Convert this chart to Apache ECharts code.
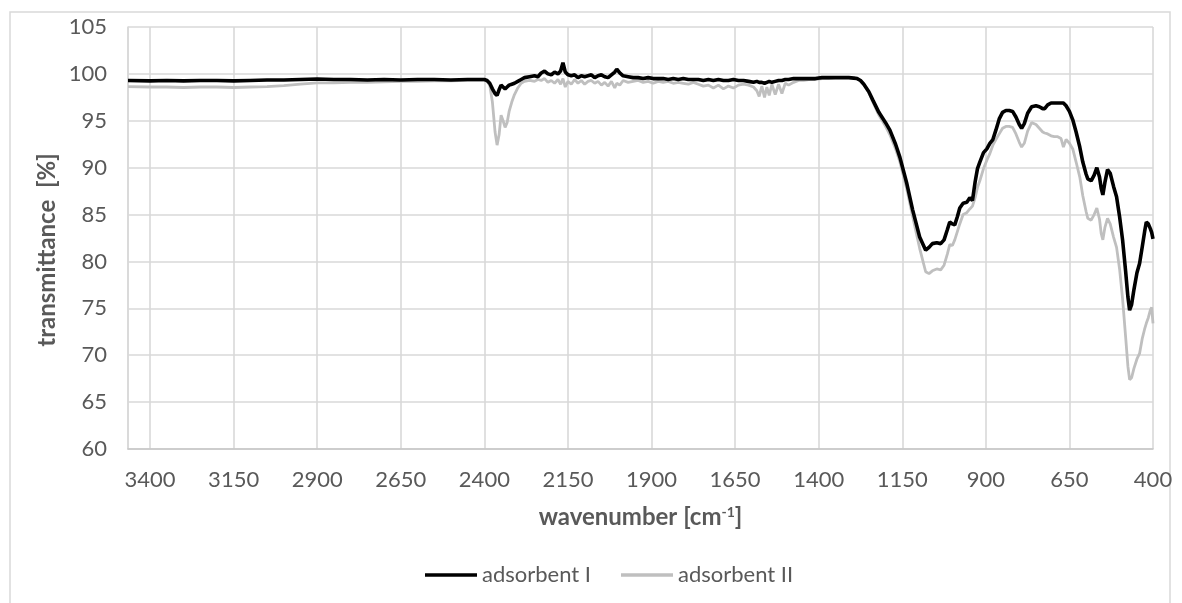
<!DOCTYPE html>
<html>
<head>
<meta charset="utf-8">
<title>FTIR spectra of adsorbents</title>
<script src="https://cdn.jsdelivr.net/npm/echarts@6/dist/echarts.min.js"></script>
<style>
  html, body { margin: 0; padding: 0; background: #ffffff; }
  #chart { width: 1182px; height: 603px; }
</style>
</head>
<body>
<div id="chart"></div>
<script>
// Wavenumber (cm-1) of each sampled point, high to low
const wavenumber = [
  // baseline
  3466, 3400, 3350, 3300, 3250, 3200, 3150, 3100, 3050, 3000, 2950,
  2900, 2850, 2800, 2750, 2700, 2650, 2600, 2550, 2500, 2450, 2400,
  // CO2 doublet
  2392, 2384, 2376, 2368, 2362, 2356, 2350, 2344, 2338, 2332, 2326, 2318, 2310, 2300, 2290, 2280,
  // noisy plateau
  2265, 2250, 2240, 2230, 2220, 2210, 2200, 2190, 2180, 2172, 2165, 2158, 2150, 2140, 2130,
  2120, 2110, 2100, 2090, 2080, 2070, 2060, 2050, 2040, 2030, 2020, 2010, 2004, 1995, 1985,
  1970, 1955, 1940, 1925, 1910, 1895, 1880, 1865, 1850, 1835, 1820, 1805, 1790, 1775, 1760,
  1745, 1730, 1715, 1700, 1685, 1670, 1655, 1640, 1625, 1610,
  1595, 1585, 1578, 1570, 1562, 1555, 1548, 1540, 1530, 1520, 1510, 1500, 1490, 1475,
  1460, 1445, 1430, 1410, 1390, 1370, 1350, 1330, 1310, 1295, 1285, 1275, 1265,
  // fingerprint region
  1250, 1238, 1220, 1200, 1187, 1170, 1157, 1137, 1119, 1098,
  1080, 1070, 1060, 1047, 1035, 1025, 1015, 1008, 1000, 993,
  985, 978, 968, 957, 948, 940, 932, 925, 918, 907,
  897, 888, 879, 870, 860, 850, 840, 830, 820, 810,
  800, 793, 785, 775, 763, 750, 740, 730, 724, 715,
  705, 695, 685, 675, 668, 660, 650, 640, 630, 619,
  610, 600, 595, 585, 576, 568, 560, 555, 550, 544,
  536, 528, 518, 509, 500, 491, 482, 475, 470, 464,
  457, 448, 440, 432, 425, 420, 414, 408, 404, 400
];

// Transmittance (%) of adsorbent I
const adsorbentI = [
  99.30, 99.25, 99.30, 99.25, 99.30, 99.30, 99.25, 99.30, 99.35, 99.35, 99.40,
  99.45, 99.40, 99.40, 99.35, 99.40, 99.35, 99.40, 99.40, 99.35, 99.40, 99.40,
  99.3, 99.0, 98.4, 97.9, 97.7, 98.3, 98.8, 98.6, 98.4, 98.6, 98.8, 98.9, 99.0, 99.2, 99.4, 99.6,
  99.7, 99.8, 99.7, 100.1, 100.3, 100.0, 99.9, 100.2, 100.0, 100.3, 101.2, 100.2, 99.9, 99.8, 99.9,
  99.6, 99.8, 99.7, 99.8, 99.9, 99.6, 99.8, 99.9, 99.7, 99.6, 99.9, 100.2, 100.5, 100.1, 99.8,
  99.7, 99.6, 99.6, 99.5, 99.6, 99.5, 99.5, 99.5, 99.4, 99.5, 99.4, 99.5, 99.4, 99.4, 99.4,
  99.3, 99.4, 99.3, 99.4, 99.3, 99.3, 99.4, 99.3, 99.3, 99.2,
  99.1, 99.2, 99.1, 99.1, 99.0, 99.1, 99.2, 99.1, 99.2, 99.3, 99.3, 99.4, 99.4, 99.5,
  99.5, 99.5, 99.5, 99.5, 99.6, 99.6, 99.6, 99.6, 99.6, 99.55, 99.5, 99.3, 98.9,
  98.1, 97.2, 95.9, 94.8, 94.0, 92.5, 91.1, 88.4, 85.5, 82.6,
  81.2, 81.5, 81.9, 82.0, 81.9, 82.3, 83.4, 84.2, 84.0, 83.9,
  84.8, 85.7, 86.2, 86.3, 86.8, 86.5, 88.5, 89.9, 90.6, 91.6,
  92.0, 92.6, 93.0, 94.0, 95.2, 95.9, 96.1, 96.1, 96.0, 95.4,
  94.6, 94.2, 94.7, 95.8, 96.5, 96.6, 96.5, 96.3, 96.3, 96.7,
  96.9, 96.9, 96.9, 96.9, 96.9, 96.6, 96.0, 95.1, 93.8, 92.2,
  90.6, 89.3, 88.8, 88.6, 89.2, 90.0, 89.0, 87.8, 87.1, 88.4,
  89.8, 89.4, 88.0, 86.9, 84.8, 82.3, 79.0, 76.2, 74.8, 75.4,
  77.0, 78.8, 79.8, 81.6, 83.2, 84.2, 84.0, 83.5, 83.1, 82.4
];

// Transmittance (%) of adsorbent II
const adsorbentII = [
  98.65, 98.60, 98.60, 98.55, 98.60, 98.60, 98.55, 98.60, 98.65, 98.75, 98.90,
  99.05, 99.05, 99.10, 99.10, 99.15, 99.20, 99.20, 99.25, 99.25, 99.30, 99.30,
  99.2, 98.8, 97.0, 93.8, 92.4, 93.5, 95.6, 95.0, 94.3, 94.8, 96.0, 97.0, 97.8, 98.5, 99.0, 99.2,
  99.3, 99.2, 99.4, 99.3, 99.5, 99.1, 99.3, 99.0, 99.4, 98.9, 99.5, 98.6, 99.2, 98.9, 99.4,
  99.0, 99.3, 98.9, 99.2, 99.3, 99.0, 99.2, 98.8, 99.1, 98.7, 99.2, 98.5, 99.0, 98.8, 99.3,
  99.1, 99.2, 99.3, 99.1, 99.2, 99.0, 99.2, 99.1, 99.2, 99.0, 99.1, 99.0, 98.9, 99.1, 98.9,
  98.7, 98.8, 98.5, 98.8, 98.4, 98.7, 98.5, 98.8, 98.9, 98.8,
  98.6, 98.2, 97.6, 98.7, 97.5, 98.6, 97.7, 98.9, 97.8, 98.9, 97.9, 99.0, 98.8, 99.1,
  99.3, 99.3, 99.4, 99.4, 99.5, 99.5, 99.6, 99.6, 99.6, 99.55, 99.5, 99.3, 98.9,
  98.0, 97.0, 95.6, 94.4, 93.5, 92.0, 90.6, 87.8, 84.8, 81.4,
  78.9, 78.7, 79.0, 79.2, 79.1, 79.6, 80.8, 81.8, 81.7, 82.3,
  83.2, 84.0, 85.0, 85.2, 85.6, 85.9, 86.8, 87.9, 88.6, 89.9,
  90.8, 91.5, 92.4, 93.0, 93.6, 94.2, 94.4, 94.4, 94.3, 93.6,
  92.7, 92.2, 92.6, 93.9, 94.8, 94.6, 94.2, 93.8, 93.7, 93.6,
  93.4, 93.3, 93.3, 93.1, 92.2, 93.0, 92.6, 92.0, 90.6, 89.0,
  87.0, 85.3, 84.6, 84.4, 85.0, 85.7, 84.5, 83.0, 82.3, 83.6,
  84.6, 84.0, 82.6, 81.5, 79.2, 76.0, 72.0, 68.8, 67.4, 67.6,
  68.6, 69.6, 70.2, 71.8, 72.8, 73.4, 74.0, 74.8, 75.1, 73.4
];

// Labelled wavenumber ticks
const xTickLabels = [3400, 3150, 2900, 2650, 2400, 2150, 1900, 1650, 1400, 1150, 900, 650, 400];
const seriesNames = ['adsorbent I', 'adsorbent II'];

const FONT = 'Lato, "Open Sans", sans-serif';
const TEXT = '#595959';
const GRID = '#d9d9d9';

const chart = echarts.init(document.getElementById('chart'), null, { renderer: 'canvas' });

const toPairs = (vals) => wavenumber.map((w, i) => [w, vals[i]]);

chart.setOption({
  animation: false,
  backgroundColor: '#ffffff',
  textStyle: { fontFamily: FONT },
  graphic: [
    {
      type: 'rect',
      shape: { x: 10, y: 12, width: 1160, height: 620 },
      style: { fill: 'none', stroke: GRID, lineWidth: 1.5 },
      silent: true,
      z: -10
    },
    {
      type: 'text',
      x: 47,
      y: 250,
      rotation: Math.PI / 2,
      style: {
        text: 'transmittance  [%]',
        fill: TEXT,
        font: 'bold 24px ' + FONT,
        textAlign: 'center',
        textVerticalAlign: 'middle'
      }
    }
  ],
  grid: { left: 128, right: 29, top: 27, bottom: 154, containLabel: false },
  legend: {
    data: [
      { name: seriesNames[0], icon: 'rect' },
      { name: seriesNames[1], icon: 'rect' }
    ],
    left: 420,
    top: 559,
    itemWidth: 52,
    itemHeight: 3.5,
    itemGap: 30,
    textStyle: { color: TEXT, fontSize: 22, fontFamily: FONT },
    selectedMode: false
  },
  xAxis: {
    type: 'value',
    inverse: true,
    min: 400,
    max: 3466,
    interval: 250,
    name: '{t|wavenumber [cm}{s|-1}{t|]}',
    nameLocation: 'middle',
    nameGap: 56,
    nameTextStyle: {
      rich: {
        t: { fontSize: 24, fontWeight: 'bold', color: TEXT, fontFamily: FONT, verticalAlign: 'bottom' },
        s: { fontSize: 14, fontWeight: 'bold', color: TEXT, fontFamily: FONT, verticalAlign: 'top', padding: [0, 0, 9, 0] }
      }
    },
    axisLine: { show: true, lineStyle: { color: '#c6c6c6', width: 1.6 } },
    axisTick: { show: false },
    axisLabel: {
      color: TEXT,
      fontSize: 22,
      margin: 20,
      formatter: (v) => (xTickLabels.includes(v) ? String(v) : '')
    },
    splitLine: { show: true, lineStyle: { color: GRID, width: 1.6 } }
  },
  yAxis: {
    type: 'value',
    min: 60,
    max: 105,
    interval: 5,
    axisLine: { show: true, lineStyle: { color: GRID, width: 1.6 } },
    axisTick: { show: false },
    axisLabel: { color: TEXT, fontSize: 22, margin: 21 },
    splitLine: { show: true, lineStyle: { color: GRID, width: 1.6 } }
  },
  series: [
    {
      name: 'adsorbent I',
      type: 'line',
      data: toPairs(adsorbentI),
      symbol: 'none',
      smooth: false,
      lineStyle: { color: '#000000', width: 3.6 },
      itemStyle: { color: '#000000' },
      z: 4
    },
    {
      name: 'adsorbent II',
      type: 'line',
      data: toPairs(adsorbentII),
      symbol: 'none',
      smooth: false,
      lineStyle: { color: '#bfbfbf', width: 2.8 },
      itemStyle: { color: '#bfbfbf' },
      z: 3
    }
  ]
});
</script>
</body>
</html>
